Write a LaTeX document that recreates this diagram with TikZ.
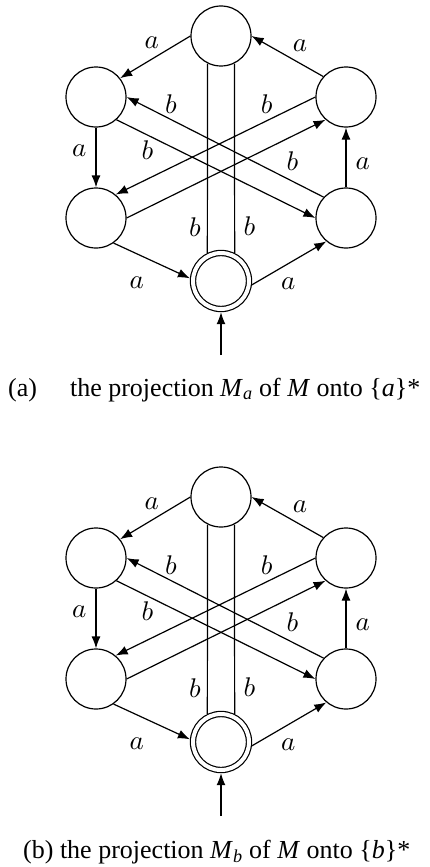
\documentclass[tikz,border=0pt]{standalone}
\usepackage{fontspec}
\setmainfont{Liberation Serif}
\usepackage{tikz}
\usetikzlibrary{arrows.meta}

\begin{document}
\begin{tikzpicture}[x=1pt, y=-1pt,
      state/.style={draw, circle, line width=1.2pt, minimum size=60pt, inner sep=0pt},
      accept/.style={state, double, double distance=4pt, minimum size=56pt, outer sep=3.2pt},
      arr/.style={-{Latex[length=12pt, width=9pt]}, line width=1.2pt},
      lbl/.style={inner sep=0pt},
      captxt/.style={anchor=base west, inner sep=0pt, font=\fontsize{26}{31}\selectfont},
    ]
    \useasboundingbox (0,0) rectangle (430,867);

    % One automaton per panel
    \foreach \p/\dy/\cx/\cy/\txt in {
      a/0/8/396/{(a)\hspace{33pt}the projection \textit{M}\textsubscript{\textit{a}} of \textit{M} onto \{\textit{a}\}*},
      b/461/23/858/{(b) the projection \textit{M}\textsubscript{\textit{b}} of \textit{M} onto \{\textit{b}\}*}}{
      % states on a stretched hexagon
      \node[state] (T\p) at (221, 36+\dy) {};
      \node[state] (UL\p) at (96, 97+\dy) {};
      \node[state] (UR\p) at (346, 97+\dy) {};
      \node[state] (LL\p) at (96, 218+\dy) {};
      \node[state] (LR\p) at (346, 218+\dy) {};
      \node[accept] (B\p) at (221, 281+\dy) {};

      % transitions
      \foreach \s/\sa/\e/\ea in {
        T/180/UL/38, UR/138/T/0, UL/270/LL/90, LR/90/UR/270,
        LL/-55/B/175, B/-7/LR/-130,
        UR/180/LL/50, LL/0/UR/228, LR/137/UL/0, UL/-48/LR/180}{
        \draw[arr] (\s\p.\sa) -- (\e\p.\ea);
        }
      \draw[line width=1.2pt] (T\p.-116) -- (B\p.116);
      \draw[line width=1.2pt] (T\p.-64) -- (B\p.64);

      % start arrow
      \coordinate (in\p) at (221, 355+\dy);
      \draw[arr] (in\p) -- (B\p.south);

      % edge labels
      \foreach \n/\x/\y/\t in {
        1/151.7/42.7/a, 2/300/46/a, 3/79.3/150.7/a, 4/362.7/163.3/a,
        5/136.7/282.7/a, 6/288.3/283.3/a,
        7/171/104/b, 8/266.7/104/b, 9/147.3/150/b, 10/292.3/160.7/b,
        11/195/227.3/b, 12/249.3/226/b}{
        \node[lbl] (l\n\p) at (\x, \y+\dy) {\scalebox{2.7}{$\t$}};
        }

      % caption
      \node[captxt] (cap\p) at (\cx, \cy) {\txt};
      }
  \end{tikzpicture}
\end{document}
